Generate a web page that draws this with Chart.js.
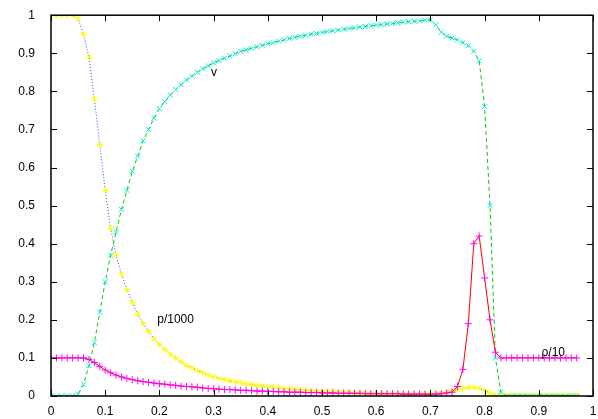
<!DOCTYPE html>
<html>
<head>
<meta charset="utf-8">
<script src="https://cdn.jsdelivr.net/npm/chart.js@4/dist/chart.umd.min.js"></script>
<style>
  body { margin: 0; background: #fff; }
</style>
</head>
<body>
<canvas id="c" width="598" height="419"></canvas>
<script>
// x positions, step 0.01 from 0 to 0.97
const xs = Array.from({ length: 98 }, (_, i) => +(i / 100).toFixed(2));

// p/1000 (yellow stars)
const pVals = [
  1, 1, 1, 1, 1, .99, .95, .89, .78, .66,
  .54, .44, .37, .32, .28, .245, .215, .19, .17, .15,
  .135, .122, .11, .1, .09, .08, .074, .067, .061, .055,
  .05, .047, .043, .04, .037, .035, .032, .03, .028, .026,
  .025, .023, .022, .02, .019, .018, .017, .016, .014, .013,
  .012, .012, .011, .011, .010, .010, .009, .009, .008, .008,
  .007, .007, .007, .007, .006, .006, .006, .006, .006, .006,
  .006, .007, .008, .01, .013, .017, .02, .022, .022, .02,
  .014, .008, .003, .002, .002, .002, .002, .002, .002, .002,
  .002, .002, .002, .002, .002, .002, .002, .002
];

// v (cyan crosses)
const vVals = [
  0, 0, 0, 0, 0, .005, .03, .08, .14, .22,
  .30, .37, .43, .49, .54, .59, .63, .67, .70, .73,
  .755, .773, .79, .805, .818, .83, .84, .85, .859, .867,
  .875, .881, .887, .893, .899, .905, .909, .913, .917, .921,
  .925, .928, .932, .935, .939, .942, .945, .947, .95, .952,
  .955, .957, .959, .961, .963, .965, .967, .969, .97, .972,
  .974, .975, .977, .978, .98, .982, .983, .984, .985, .987,
  .988, .975, .955, .945, .94, .935, .928, .92, .905, .88,
  .76, .5, .1, .01, 0, 0, 0, 0, 0, 0,
  0, 0, 0, 0, 0, 0, 0, 0
];

// rho/10 (magenta plus)
const rhoVals = [
  .1, .1, .1, .1, .1, .1, .1, .096, .088, .078,
  .068, .061, .055, .05, .046, .043, .04, .038, .036, .034,
  .032, .031, .029, .028, .026, .025, .024, .023, .021, .02,
  .019, .018, .017, .017, .016, .015, .015, .014, .013, .013,
  .012, .012, .011, .011, .010, .010, .010, .009, .009, .009,
  .008, .008, .008, .007, .007, .007, .007, .007, .006, .006,
  .006, .006, .006, .006, .006, .005, .005, .005, .005, .005,
  .005, .005, .006, .008, .01, .025, .07, .19, .40, .42,
  .31, .2, .115, .1, .1, .1, .1, .1, .1, .1,
  .1, .1, .1, .1, .1, .1, .1, .1
];

const xTicks = [0, 0.1, 0.2, 0.3, 0.4, 0.5, 0.6, 0.7, 0.8, 0.9, 1];
const yTicks = [0, 0.1, 0.2, 0.3, 0.4, 0.5, 0.6, 0.7, 0.8, 0.9, 1];

const labels = [
  { text: 'v', x: 0.295, y: 0.85 },
  { text: 'p/1000', x: 0.196, y: 0.2 },
  { text: 'ρ/10', x: 0.905, y: 0.115 }
];

const pts = vals => vals.map((y, i) => ({ x: xs[i], y }));

// gnuplot-like inward ticks, mirrored, plus text labels
const gnuplotFrame = {
  id: 'gnuplotFrame',
  afterDatasetsDraw(chart) {
    const { ctx, chartArea: a, scales: { x, y } } = chart;
    ctx.save();
    ctx.strokeStyle = '#000';
    ctx.lineWidth = 1;
    ctx.beginPath();
    xTicks.forEach(t => {
      const px = Math.round(x.getPixelForValue(t)) + 0.5;
      ctx.moveTo(px, a.bottom); ctx.lineTo(px, a.bottom - 6);
      ctx.moveTo(px, a.top); ctx.lineTo(px, a.top + 6);
    });
    yTicks.forEach(t => {
      const py = Math.round(y.getPixelForValue(t)) + 0.5;
      ctx.moveTo(a.left, py); ctx.lineTo(a.left + 6, py);
      ctx.moveTo(a.right, py); ctx.lineTo(a.right - 6, py);
    });
    ctx.stroke();
    ctx.lineWidth = 1.5;
    ctx.strokeRect(a.left, a.top, a.right - a.left, a.bottom - a.top);
    ctx.fillStyle = '#000';
    ctx.font = '12px "Liberation Sans", sans-serif';
    ctx.textBaseline = 'middle';
    ctx.textAlign = 'left';
    labels.forEach(l => ctx.fillText(l.text, x.getPixelForValue(l.x), y.getPixelForValue(l.y)));
    ctx.restore();
  }
};

new Chart(document.getElementById('c'), {
  type: 'scatter',
  data: {
    datasets: [
      {
        data: pts(rhoVals), showLine: true,
        borderColor: '#ff0000', borderWidth: 1,
        pointStyle: 'cross', pointRadius: 3.5, pointBorderWidth: 1,
        pointBorderColor: '#ff00ff', pointBackgroundColor: '#ff00ff'
      },
      {
        data: pts(vVals), showLine: true,
        borderColor: '#00d000', borderWidth: 1, borderDash: [4, 3],
        pointStyle: 'crossRot', pointRadius: 3.5, pointBorderWidth: 1,
        pointBorderColor: '#00e8e8', pointBackgroundColor: '#00e8e8'
      },
      {
        data: pts(pVals), showLine: true,
        borderColor: '#4040ff', borderWidth: 1, borderDash: [1, 2],
        pointStyle: 'star', pointRadius: 3, pointBorderWidth: 1,
        pointBorderColor: '#ffff00', pointBackgroundColor: '#ffff00'
      }
    ]
  },
  plugins: [gnuplotFrame],
  options: {
    responsive: false,
    animation: false,
    layout: { padding: { left: 3, right: 5, top: 14, bottom: 0 } },
    plugins: { legend: { display: false }, tooltip: { enabled: false } },
    scales: {
      x: {
        type: 'linear', min: 0, max: 1,
        afterBuildTicks: s => { s.ticks = xTicks.map(v => ({ value: v })); },
        afterFit: s => { s.height = 23; },
        grid: { display: false },
        border: { display: false },
        ticks: {
          color: '#000', padding: 0, maxRotation: 0,
          font: { family: '"Liberation Sans", sans-serif', size: 12 },
          callback: v => String(+v.toFixed(1))
        }
      },
      y: {
        type: 'linear', min: 0, max: 1,
        afterBuildTicks: s => { s.ticks = yTicks.map(v => ({ value: v })); },
        afterFit: s => { s.width = 48; },
        grid: { display: false },
        border: { display: false },
        ticks: {
          color: '#000', padding: 8,
          font: { family: '"Liberation Sans", sans-serif', size: 12 },
          callback: v => String(+v.toFixed(1))
        }
      }
    }
  }
});
</script>
</body>
</html>
